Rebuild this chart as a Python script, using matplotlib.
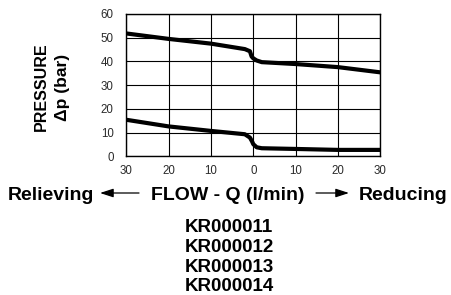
import matplotlib
matplotlib.use("Agg")
import matplotlib.pyplot as plt
from matplotlib.patches import FancyArrowPatch

# flow (l/min): negative = relieving side, positive = reducing side
upper_q = [-30, -20, -10, -2, -0.8, -0.4, 0.0, 0.8, 2, 10, 20, 30]
upper_p = [51.8, 49.5, 47.5, 45.2, 44.3, 42.1, 41.3, 40.4, 39.7, 38.9, 37.6, 35.4]

lower_q = [-30, -20, -10, -2, -0.8, -0.3, 0.0, 0.8, 2, 10, 20, 30]
lower_p = [15.4, 12.6, 10.7, 9.3, 7.9, 6.3, 5.1, 3.8, 3.4, 3.1, 2.7, 2.7]

x_ticks = [-30, -20, -10, 0, 10, 20, 30]
x_labels = ["30", "20", "10", "0", "10", "20", "30"]
y_ticks = [0, 10, 20, 30, 40, 50, 60]
part_numbers = ["KR000011", "KR000012", "KR000013", "KR000014"]

W, H = 451, 295
plt.rcParams["font.family"] = ["Liberation Sans", "DejaVu Sans"]

fig = plt.figure(figsize=(W / 100, H / 100), dpi=100)
ax = fig.add_axes([126.3 / W, 1 - 156.3 / H, 254 / W, 142.3 / H])

ax.plot(upper_q, upper_p, color="black", lw=3.0, solid_capstyle="butt", solid_joinstyle="round")
ax.plot(lower_q, lower_p, color="black", lw=3.0, solid_capstyle="butt", solid_joinstyle="round")

ax.set_xlim(-30, 30)
ax.set_ylim(0, 60)
ax.set_xticks(x_ticks)
ax.set_xticklabels(x_labels)
ax.set_yticks(y_ticks)
ax.tick_params(length=0, labelsize=8.3, labelcolor="#2a2a2a")
ax.tick_params(axis="x", pad=6)
ax.tick_params(axis="y", pad=9)
ax.grid(True, color="black", lw=0.8)
ax.set_axisbelow(True)
for s in ax.spines.values():
    s.set_linewidth(1.0)

def px(x, y):
    return x / W, 1 - y / H

# y-axis label, two rotated lines
fig.text(*px(41.5, 86.5), "PRESSURE", rotation=90, ha="center", va="center",
         fontsize=11.5, fontweight="bold")
fig.text(*px(62, 87.5), "\u0394p (bar)", rotation=90, ha="center", va="center",
         fontsize=12.5, fontweight="bold")

# flow label with arrows
fig.text(*px(8, 199.7), "Relieving", ha="left", va="baseline", fontsize=14, fontweight="bold")
fig.text(*px(228, 199.7), "FLOW - Q (l/min)", ha="center", va="baseline", fontsize=14, fontweight="bold")
fig.text(*px(447, 199.7), "Reducing", ha="right", va="baseline", fontsize=14, fontweight="bold")

for tail, head in [(139, 100), (316, 349)]:
    fig.add_artist(FancyArrowPatch(px(tail, 193), px(head, 193), transform=fig.transFigure,
                                   arrowstyle="-|>,head_length=8,head_width=2.6",
                                   color="black", lw=0.9, mutation_scale=1,
                                   shrinkA=0, shrinkB=0))

for i, name in enumerate(part_numbers):
    fig.text(*px(229, 231.7 + i * 19.9), name, ha="center", va="baseline",
             fontsize=13.5, fontweight="bold")

fig.savefig("out.png", dpi=100)
